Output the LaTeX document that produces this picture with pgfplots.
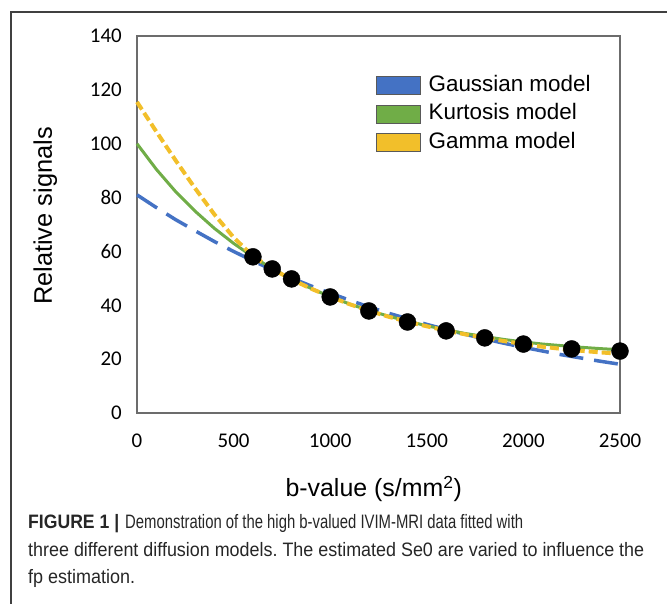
\documentclass[border=0pt]{standalone}
\usepackage{fontspec}
\setmainfont{Liberation Sans}
\newfontfamily\tickfont{Carlito}
\usepackage{graphicx}
\usepackage{pgfplots}
\pgfplotsset{compat=1.18}

\definecolor{gblue}{HTML}{4472C4}
\definecolor{kgreen}{HTML}{70AD47}
\definecolor{gyellow}{HTML}{F2BF2A}

\pgfplotsset{
  legrect/.style={legend image code/.code={
      \draw[line width=0.8bp, draw=black!65, ##1] (0bp,-9bp) rectangle (44bp,9bp);}},
}

\begin{document}
\frenchspacing
\begin{tikzpicture}
\useasboundingbox (0,0) rectangle (667bp,-604bp);
\draw[line width=1.3bp, black!75] (11bp,-604bp) -- (11bp,-12bp) -- (667bp,-12bp);

\begin{axis}[
    at={(137bp,-413bp)}, anchor=south west,
    scale only axis,
    width=483bp, height=377bp,
    xmin=0, xmax=2500,
    ymin=0, ymax=140,
    xtick={0,500,...,2500},
    ytick={0,20,...,140},
    scaled ticks=false,
    tick style={draw=none},
    axis line style={draw=gray!85!black, line width=1.2bp},
    /pgf/number format/assume math mode=true,
    /pgf/number format/1000 sep={},
    ticklabel style={font=\tickfont\fontsize{21}{21}\selectfont, text=black},
    yticklabel style={inner sep=0pt, xshift=-15bp},
    xticklabel style={inner sep=0pt, yshift=-21bp},
    xlabel={b-value (s/mm\textsuperscript{2})},
    ylabel={Relative signals},
    xlabel style={font=\fontsize{25}{25}\selectfont, at={(axis description cs:0.49,-0.2228)}, anchor=base},
    ylabel style={font=\fontsize{25.5}{25.5}\selectfont, at={(axis description cs:-0.19,0.5225)}, anchor=center},
    clip=false,
    legend style={at={(axis description cs:0.494,0.896)}, anchor=north west,
      draw=none, fill=none, inner sep=0pt,
      font=\fontsize{22.5}{22.5}\selectfont,
      nodes={inner sep=0pt, text height=16bp, text depth=4bp},
      row sep=8.5bp,
      /tikz/every odd column/.style={column sep=8bp}},
    legend cell align=left,
]

% Gaussian model
\addplot[gblue, line width=3.5bp, dash pattern=on 24bp off 11bp, forget plot] coordinates {
    (0,81.0) (100,76.3) (200,71.8) (300,67.7) (400,63.7) (500,60.0)
    (600,56.5) (700,53.2) (800,50.1) (900,47.2) (1000,44.5) (1100,41.9)
    (1200,39.4) (1300,37.1) (1400,35.0) (1500,32.9) (1600,31.0) (1700,29.2)
    (1800,27.5) (1900,25.9) (2000,24.4) (2100,23.0) (2200,21.6) (2300,20.4)
    (2400,19.2) (2500,18.1)
};
% Kurtosis model
\addplot[kgreen, line width=3bp, forget plot] coordinates {
    (0,100.0) (100,90.5) (200,82.2) (300,75.0) (400,68.6) (500,63.0)
    (600,58.0) (700,53.6) (800,49.7) (900,46.3) (1000,43.2) (1100,40.5)
    (1200,38.1) (1300,36.0) (1400,34.1) (1500,32.4) (1600,30.9) (1700,29.5)
    (1800,28.4) (1900,27.3) (2000,26.4) (2100,25.6) (2200,25.0) (2300,24.4)
    (2400,23.9) (2500,23.5)
};
% Gamma model
\addplot[gyellow, line width=4bp, dash pattern=on 9bp off 4bp, forget plot] coordinates {
    (0,115.5) (100,104.5) (200,93.8) (300,83.5) (400,73.8) (500,65.2)
    (600,58.3) (700,53.5) (800,49.6) (900,46.2) (1000,43.2) (1100,40.4)
    (1200,38.0) (1300,35.8) (1400,33.9) (1500,32.2) (1600,30.6) (1700,29.2)
    (1800,27.9) (1900,26.7) (2000,25.6) (2100,24.6) (2200,23.8) (2300,23.1)
    (2400,22.5) (2500,22.0)
};
% measured signals
\addplot[only marks, mark=*, mark size=8.5bp, black, forget plot] coordinates {
    (600,58.0) (700,53.5) (800,49.8) (1000,43.1) (1200,37.9) (1400,33.8)
    (1600,30.5) (1800,27.9) (2000,25.6) (2250,23.8) (2500,23.0)
};

\addlegendimage{legrect, fill=gblue}
\addlegendentry{Gaussian model}
\addlegendimage{legrect, fill=kgreen}
\addlegendentry{Kurtosis model}
\addlegendimage{legrect, fill=gyellow}
\addlegendentry{Gamma model}
\end{axis}

\begin{scope}[every node/.style={anchor=base west, inner sep=0pt, text=black!85,
    font=\fontsize{19.5}{19.5}\selectfont}]
\node at (28bp,-528bp) {\resizebox{91bp}{\height}{\textbf{FIGURE 1 |}}};
\node at (125bp,-528bp) {\resizebox{398bp}{\height}{Demonstration of the high b-valued IVIM-MRI data fitted with}};
\node at (28bp,-556bp) {\resizebox{616bp}{\height}{three different diffusion models. The estimated Se0 are varied to influence the}};
\node at (28bp,-583bp) {\resizebox{107bp}{\height}{fp estimation.}};
\end{scope}
\end{tikzpicture}
\end{document}
